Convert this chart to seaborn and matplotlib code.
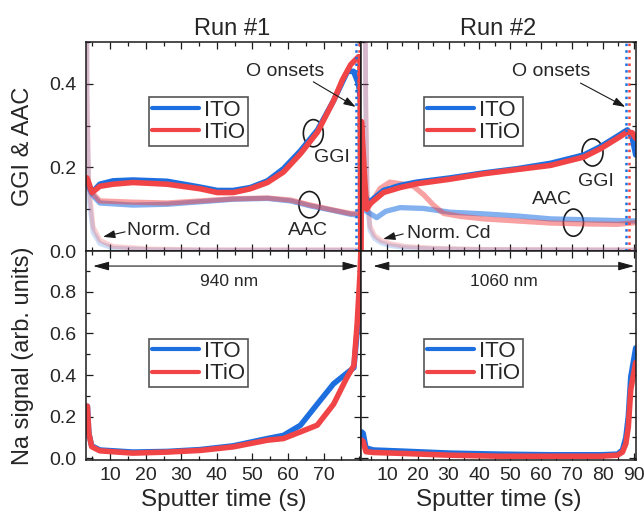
import numpy as np
import pandas as pd
import matplotlib
matplotlib.use('Agg')
import matplotlib.pyplot as plt
import seaborn as sns
from matplotlib.patches import Ellipse
from matplotlib.ticker import MultipleLocator

# ---------- data ----------
# Run #1, GGI
r1_ggi_ito_t = [3.5, 4.9, 7.1, 10.8, 16.4, 26.0, 35.3, 40.1, 44.6, 49.4, 54.2, 58.7, 63.5, 68.3, 72.8, 75.3, 76.7, 78.4, 79.8, 80.4]
r1_ggi_ito = [0.17, 0.14, 0.16, 0.168, 0.17, 0.167, 0.153, 0.145, 0.145, 0.152, 0.168, 0.197, 0.24, 0.29, 0.36, 0.405, 0.43, 0.43, 0.40, 0.36]
r1_ggi_itio_t = [3.5, 4.9, 7.1, 10.8, 16.4, 26.0, 35.3, 40.1, 44.6, 49.4, 54.2, 58.7, 63.5, 68.3, 72.8, 75.3, 77.6, 79.8, 80.2, 80.45]
r1_ggi_itio = [0.175, 0.14, 0.155, 0.16, 0.164, 0.16, 0.149, 0.14, 0.14, 0.149, 0.164, 0.189, 0.233, 0.285, 0.36, 0.41, 0.446, 0.465, 0.465, -0.05]

# Run #1, AAC
r1_aac_t = [3.5, 4.9, 7.1, 16.4, 26.0, 35.3, 44.6, 54.2, 60.7, 66.3, 72.8, 77.6, 80.4]
r1_aac_ito = [0.16, 0.135, 0.115, 0.11, 0.112, 0.118, 0.124, 0.126, 0.12, 0.108, 0.097, 0.088, 0.085]
r1_aac_itio = [0.16, 0.14, 0.12, 0.117, 0.115, 0.12, 0.125, 0.127, 0.122, 0.11, 0.098, 0.09, 0.09]

# Run #1, normalised Cd
r1_cd_t = [3.2, 3.5, 4.0, 5.2, 7.1, 10.8, 21.2, 35.0, 80.4]
r1_cd_ito = [1.0, 0.33, 0.13, 0.045, 0.018, 0.007, 0.003, 0.002, 0.002]
r1_cd_itio = [1.0, 0.38, 0.16, 0.058, 0.026, 0.011, 0.005, 0.003, 0.003]

# Run #2, GGI
r2_ggi_ito_t = [1.9, 2.5, 4.0, 8.9, 14.3, 19.7, 30.5, 41.4, 52.2, 63.1, 73.9, 79.3, 84.8, 88.0, 89.6, 90.7]
r2_ggi_ito = [0.17, 0.14, 0.115, 0.145, 0.157, 0.165, 0.175, 0.187, 0.197, 0.21, 0.23, 0.25, 0.275, 0.29, 0.27, 0.23]
r2_ggi_itio_t = [1.6, 1.75, 2.9, 3.45, 4.5, 8.9, 14.3, 19.7, 30.5, 41.4, 52.2, 63.1, 73.9, 79.3, 84.8, 88.0, 89.6, 90.7]
r2_ggi_itio = [-0.05, 0.31, 0.16, 0.10, 0.113, 0.14, 0.152, 0.161, 0.172, 0.185, 0.195, 0.205, 0.225, 0.245, 0.27, 0.285, 0.283, 0.27]

# Run #2, AAC
r2_aac_ito_t = [1.9, 3.4, 6.7, 9.6, 14.3, 21.8, 30.5, 41.4, 52.2, 63.1, 73.9, 90.7]
r2_aac_ito = [0.104, 0.095, 0.08, 0.095, 0.104, 0.102, 0.093, 0.089, 0.084, 0.077, 0.075, 0.072]
r2_aac_itio_t = [1.9, 4.5, 7.8, 11.0, 15.4, 18.6, 21.9, 25.1, 28.4, 33.8, 41.4, 52.2, 63.1, 73.9, 84.8, 90.7]
r2_aac_itio = [0.104, 0.11, 0.15, 0.165, 0.16, 0.155, 0.135, 0.11, 0.09, 0.083, 0.077, 0.072, 0.067, 0.065, 0.064, 0.068]

# Run #2, normalised Cd
r2_cd_t = [2.8, 3.1, 3.6, 4.5, 6.0, 8.0, 11.0, 16.0, 25.0, 40.0, 90.7]
r2_cd_ito = [1.0, 0.35, 0.12, 0.05, 0.03, 0.02, 0.013, 0.008, 0.005, 0.003, 0.002]
r2_cd_itio = [1.0, 0.4, 0.15, 0.06, 0.037, 0.026, 0.018, 0.011, 0.007, 0.004, 0.003]

# Na signal
r1_na_ito_t = [3.6, 4.0, 4.8, 7.1, 16.4, 26.0, 35.3, 44.6, 54.2, 58.7, 63.5, 68.2, 72.8, 76.6, 78.5, 80.0, 80.5]
r1_na_ito = [0.25, 0.12, 0.06, 0.04, 0.03, 0.033, 0.042, 0.06, 0.095, 0.11, 0.159, 0.26, 0.358, 0.41, 0.435, 0.72, 0.85]
r1_na_itio_t = [3.6, 4.0, 4.8, 7.1, 16.4, 26.0, 35.3, 44.6, 54.2, 58.7, 63.5, 68.2, 72.8, 76.6, 78.5, 79.4, 80.2, 80.6]
r1_na_itio = [0.25, 0.12, 0.056, 0.036, 0.025, 0.03, 0.038, 0.055, 0.087, 0.095, 0.127, 0.159, 0.26, 0.39, 0.445, 0.64, 0.88, 1.05]
r2_na_t = [1.8, 2.3, 3.2, 5.6, 14.3, 30.5, 46.8, 63.1, 79.3, 84.8, 86.4, 87.5, 88.3, 89.1, 90.7]
r2_na_ito = [0.127, 0.12, 0.05, 0.04, 0.035, 0.025, 0.02, 0.017, 0.017, 0.02, 0.04, 0.1, 0.2, 0.39, 0.53]
r2_na_itio = [0.087, 0.08, 0.032, 0.028, 0.024, 0.015, 0.01, 0.01, 0.01, 0.015, 0.03, 0.07, 0.15, 0.33, 0.46]

# O onsets (s)
r1_onsets = [79.0, 79.8]
r2_onsets = [87.6, 88.5]

labels = ['ITO', 'ITiO']
titles = ['Run #1', 'Run #2']
run1_xticks = [10, 20, 30, 40, 50, 60, 70]
run2_xticks = [10, 20, 30, 40, 50, 60, 70, 80, 90]
ggi_yticks = [0.0, 0.2, 0.4]
na_yticks = [0.0, 0.2, 0.4, 0.6, 0.8]

BLUE = '#1d6fe0'
RED = '#f04446'

# ---------- style ----------
sns.set_theme(style='ticks')
plt.rcParams['font.family'] = ['Liberation Sans', 'DejaVu Sans']
plt.rcParams['axes.linewidth'] = 1.1

fig, axes = plt.subplots(2, 2, figsize=(6.44, 5.2), dpi=100, sharex='col', sharey='row')
plt.subplots_adjust(left=0.1335, right=0.9876, bottom=0.1154, top=0.919, wspace=0, hspace=0)


def draw(ax, t, v, color, lw=4, alpha=1.0):
    sns.lineplot(x=t, y=v, ax=ax, color=color, lw=lw, alpha=alpha,
                 sort=False, estimator=None, legend=False)
    return ax.lines[-1]


def legend(ax, handles, y):
    leg = ax.legend(handles, labels, loc='upper left', bbox_to_anchor=(0.229, y),
                    borderaxespad=0, fontsize=16, handlelength=2.15, handletextpad=0.2,
                    labelspacing=0.05, borderpad=0.12, fancybox=False, framealpha=1)
    leg.get_frame().set_edgecolor('#555555')
    leg.get_frame().set_linewidth(1.2)
    for ln in leg.get_lines():
        ln.set_linewidth(3)
        ln.set_alpha(1)


# ---------- top row: GGI & AAC ----------
top_sets = [
    (axes[0, 0], r1_cd_t, r1_cd_ito, r1_cd_itio, r1_aac_t, r1_aac_ito, r1_aac_t, r1_aac_itio,
     r1_ggi_ito_t, r1_ggi_ito, r1_ggi_itio_t, r1_ggi_itio, r1_onsets),
    (axes[0, 1], r2_cd_t, r2_cd_ito, r2_cd_itio, r2_aac_ito_t, r2_aac_ito, r2_aac_itio_t, r2_aac_itio,
     r2_ggi_ito_t, r2_ggi_ito, r2_ggi_itio_t, r2_ggi_itio, r2_onsets),
]
for (ax, cd_t, cd_a, cd_b, aa_ta, aa_a, aa_tb, aa_b, g_ta, g_a, g_tb, g_b, ons) in top_sets:
    draw(ax, cd_t, cd_a, BLUE, lw=3.5, alpha=0.22)
    draw(ax, cd_t, cd_b, RED, lw=3.5, alpha=0.25)
    draw(ax, aa_ta, aa_a, BLUE, lw=3.8, alpha=0.55)
    draw(ax, aa_tb, aa_b, RED, lw=3.8, alpha=0.5)
    h1 = draw(ax, g_ta, g_a, BLUE)
    h2 = draw(ax, g_tb, g_b, RED)
    ax.axvline(ons[0], color=BLUE, ls=':', lw=1.8)
    ax.axvline(ons[1], color=RED, ls=':', lw=1.8)
    legend(ax, [h1, h2], 0.736)

# ---------- bottom row: Na ----------
for ax, ta, va, tb, vb in [(axes[1, 0], r1_na_ito_t, r1_na_ito, r1_na_itio_t, r1_na_itio),
                           (axes[1, 1], r2_na_t, r2_na_ito, r2_na_t, r2_na_itio)]:
    h1 = draw(ax, ta, va, BLUE)
    h2 = draw(ax, tb, vb, RED)
    legend(ax, [h1, h2], 0.581)

# ---------- axes ----------
axes[0, 0].set_xlim(3.2, 80.5)
axes[0, 1].set_xlim(1.6, 90.8)
axes[0, 0].set_ylim(0, 0.5)
axes[1, 0].set_ylim(-0.008, 0.995)
axes[1, 0].set_xticks(run1_xticks)
axes[1, 1].set_xticks(run2_xticks)
axes[0, 0].set_yticks(ggi_yticks)
axes[1, 0].set_yticks(na_yticks)

for ax in axes.flat:
    ax.xaxis.set_minor_locator(MultipleLocator(5))
    ax.yaxis.set_minor_locator(MultipleLocator(0.1))
    ax.tick_params(which='both', direction='in', top=True, right=True, width=0.9,
                   labelsize=14, color='k')
    ax.tick_params(which='major', length=5)
    ax.tick_params(which='minor', length=3)
    ax.tick_params(axis='x', pad=5)
    ax.tick_params(axis='y', pad=7)
    for s in ax.spines.values():
        s.set_linewidth(1.1)
        s.set_color('k')
    ax.set_xlabel('')
    ax.set_ylabel('')

axes[0, 0].set_title(titles[0], fontsize=17, x=0.531, pad=5)
axes[0, 1].set_title(titles[1], fontsize=17, pad=5)
axes[1, 0].set_xlabel('Sputter time (s)', fontsize=17.5, labelpad=4)
axes[1, 1].set_xlabel('Sputter time (s)', fontsize=17.5, labelpad=4)
axes[0, 0].set_ylabel('GGI & AAC', fontsize=17, va='center')
axes[1, 0].set_ylabel('Na signal (arb. units)', fontsize=17, va='center')
axes[0, 0].yaxis.set_label_coords(-0.229, 0.5)
axes[1, 0].yaxis.set_label_coords(-0.229, 0.5)

# ---------- annotations ----------
arrow = dict(arrowstyle='-|>,head_length=0.6,head_width=0.2', color='k', lw=0.8,
             mutation_scale=12, shrinkA=0, shrinkB=0)
dbl = dict(arrowstyle='<|-|>,head_length=0.8,head_width=0.22', color='k', lw=0.8,
           mutation_scale=12, shrinkA=0, shrinkB=0)
fs = 14

a = axes[0, 0]
a.text(59.3, 0.429, 'O onsets', fontsize=fs, ha='center', va='center')
a.annotate('', xy=(79.0, 0.345), xytext=(67.1, 0.405), arrowprops=arrow)
a.add_patch(Ellipse((67.1, 0.282), 5.6, 0.065, fill=False, lw=1.2, ec='k'))
a.text(72.2, 0.224, 'GGI', fontsize=fs, ha='center', va='center')
a.add_patch(Ellipse((66.0, 0.111), 5.9, 0.063, fill=False, lw=1.2, ec='k'))
a.text(65.5, 0.048, 'AAC', fontsize=fs, ha='center', va='center')
a.text(14.7, 0.048, 'Norm. Cd', fontsize=fs, ha='left', va='center')
a.annotate('', xy=(8.0, 0.034), xytext=(14.2, 0.046), arrowprops=arrow)

a = axes[0, 1]
a.text(63.4, 0.429, 'O onsets', fontsize=fs, ha='center', va='center')
a.annotate('', xy=(87.3, 0.345), xytext=(72.8, 0.402), arrowprops=arrow)
a.add_patch(Ellipse((76.7, 0.236), 6.8, 0.065, fill=False, lw=1.2, ec='k'))
a.text(77.7, 0.166, 'GGI', fontsize=fs, ha='center', va='center')
a.add_patch(Ellipse((70.5, 0.068), 6.5, 0.065, fill=False, lw=1.2, ec='k'))
a.text(63.6, 0.123, 'AAC', fontsize=fs, ha='center', va='center')
a.text(16.6, 0.043, 'Norm. Cd', fontsize=fs, ha='left', va='center')
a.annotate('', xy=(8.8, 0.029), xytext=(15.3, 0.041), arrowprops=arrow)

a = axes[1, 0]
a.annotate('', xy=(79.8, 0.923), xytext=(5.2, 0.923), arrowprops=dbl)
a.text(43.5, 0.85, '940 nm', fontsize=12.5, ha='center', va='center')
a = axes[1, 1]
a.annotate('', xy=(90.2, 0.923), xytext=(5.6, 0.923), arrowprops=dbl)
a.text(47.8, 0.85, '1060 nm', fontsize=12.5, ha='center', va='center')

plt.savefig('out.png', dpi=100)
plt.close()
